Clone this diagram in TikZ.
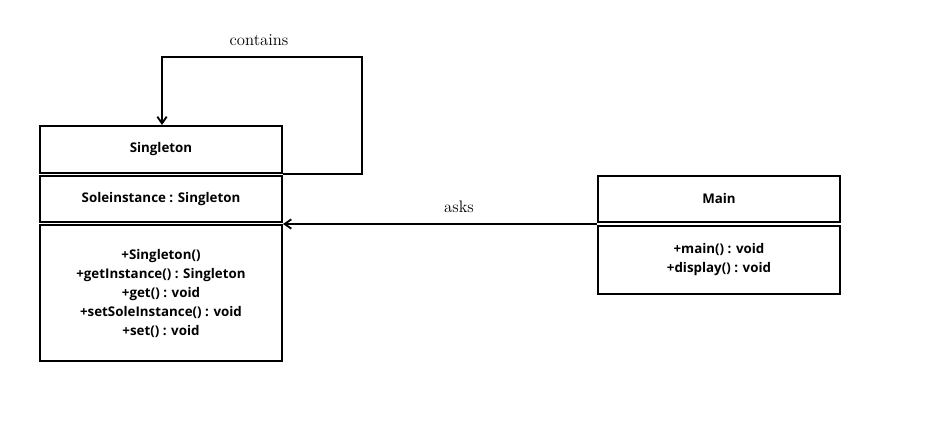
\documentclass[tikz,border=0pt]{standalone}
\usepackage{fontspec}
\setsansfont{Open Sans}
\usepackage{tikz}
\usetikzlibrary{arrows.meta,positioning}

\tikzset{
  classbox/.style={draw,line width=1.5pt,inner sep=0pt,minimum width=181.5pt,
    font=\sffamily\bfseries\fontsize{10}{14.25}\selectfont,align=center},
  relarrow/.style={line width=1.4pt,-{Straight Barb[length=5pt,width=7pt]}},
  rellabel/.style={font=\fontsize{12.5}{14}\selectfont}
}

\begin{document}
\begin{tikzpicture}[x=0.75pt,y=-0.75pt]
\useasboundingbox (0,0) rectangle (929,428);
% Singleton class
\node[classbox,minimum height=35.25pt] (singTitle) at (161,149.5) {Singleton};
\node[classbox,minimum height=34.5pt] (singAttr) at (161,199) {Soleinstance : Singleton};
\node[classbox,minimum height=102pt] (singOps) at (161,293)
  {+Singleton()\\+getInstance() : Singleton\\+get() : void\\+setSoleInstance() : void\\+set() : void};
% Main class
\node[classbox,minimum height=34.5pt] (mainTitle) at (719,199) {Main};
\node[classbox,minimum height=51pt] (mainOps) at (719,260) {+main() : void\\+display() : void};
% self association
\coordinate (loopA) at (362,174);
\coordinate (loopB) at (362,57);
\coordinate (loopC) at (162,57);
\draw[relarrow] (singTitle.south east) -- (loopA) -- (loopB) -- (loopC) -- (singTitle.north -| loopC);
\node[rellabel] (containsLbl) at (259,40) {contains};
% Main asks Singleton
\coordinate (asksEnd) at (singOps.north east |- 0,224);
\draw[relarrow] (mainTitle.south west |- asksEnd) -- (asksEnd);
\node[rellabel] (asksLbl) at (459,207) {asks};
\end{tikzpicture}
\end{document}
